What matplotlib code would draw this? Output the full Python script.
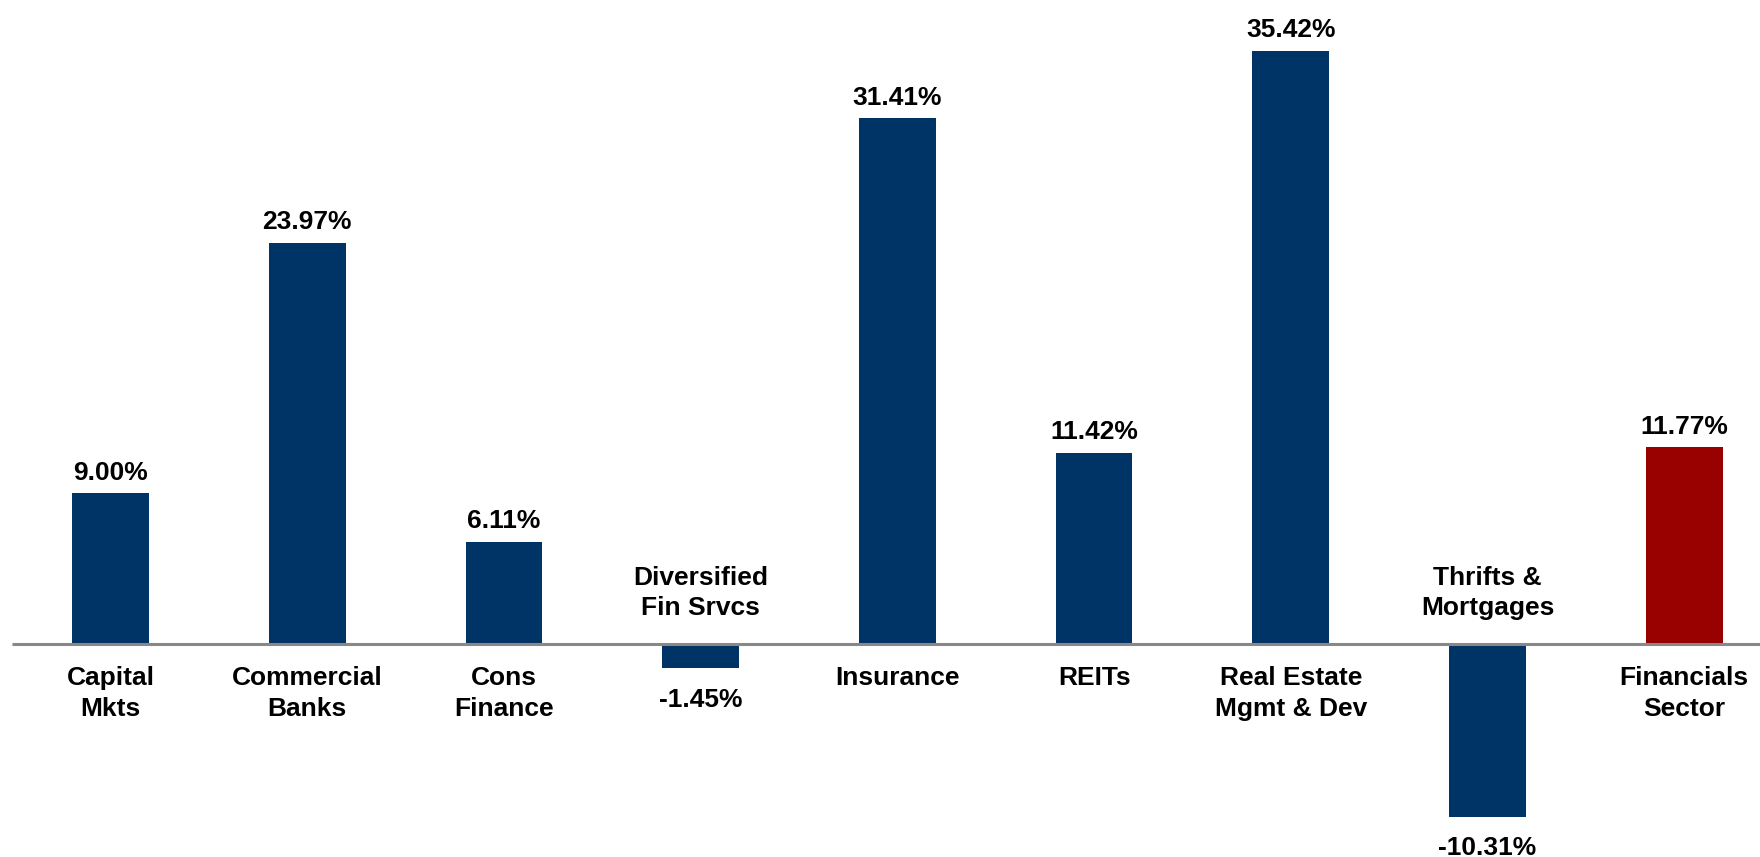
import matplotlib.pyplot as plt

categories = ["Capital\nMkts", "Commercial\nBanks", "Cons\nFinance", "Diversified\nFin Srvcs",
              "Insurance", "REITs", "Real Estate\nMgmt & Dev", "Thrifts &\nMortgages",
              "Financials\nSector"]
returns = [9.00, 23.97, 6.11, -1.45, 31.41, 11.42, 35.42, -10.31, 11.77]
colors = ["#003466"] * 8 + ["#990000"]

plt.rcParams["font.family"] = ["Liberation Sans", "DejaVu Sans"]

fig = plt.figure(figsize=(17.6, 8.57), dpi=100)
ax = fig.add_axes([0, 0, 1, 1])

x = list(range(len(categories)))
ax.bar(x, returns, width=0.39, color=colors, zorder=2)
ax.hlines(0, -0.5, 9, color="#888888", linewidth=2.2, zorder=3)

for xi, val, cat in zip(x, returns, categories):
    if val >= 0:
        ax.annotate(f"{val:.2f}%", (xi, val), xytext=(0, 6), textcoords="offset points",
                    ha="center", va="bottom", fontsize=19, fontweight="bold")
        ax.annotate(cat, (xi, 0), xytext=(0, -16), textcoords="offset points",
                    ha="center", va="top", fontsize=19, fontweight="bold", linespacing=1.35)
    else:
        ax.annotate(f"{val:.2f}%", (xi, val), xytext=(0, -14), textcoords="offset points",
                    ha="center", va="top", fontsize=19, fontweight="bold")
        ax.annotate(cat, (xi, 0), xytext=(0, 17), textcoords="offset points",
                    ha="center", va="bottom", fontsize=19, fontweight="bold", linespacing=1.35)

ax.set_xlim(-0.562, 8.385)
ax.set_ylim(-12.72, 38.45)
ax.axis("off")

fig.savefig("out.png", dpi=100)
